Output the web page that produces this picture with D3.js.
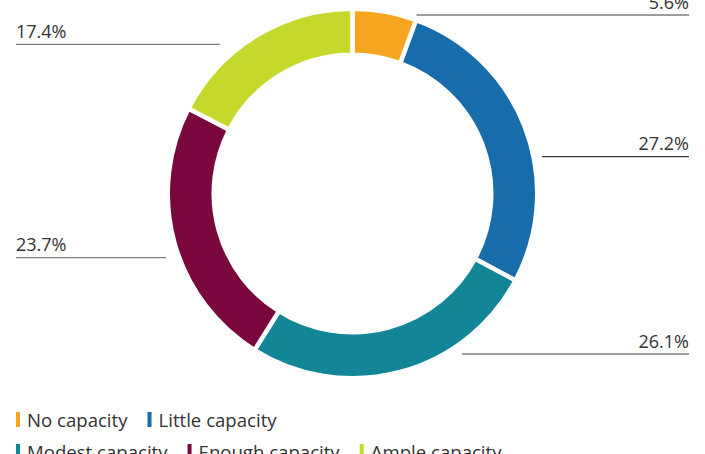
<!DOCTYPE html>
<html>
<head>
<meta charset="utf-8">
<script src="https://cdn.jsdelivr.net/npm/d3@7"></script>
<style>
  html, body { margin: 0; padding: 0; background: #fff; }
  svg { display: block; font-family: "Open Sans", "Noto Sans", sans-serif; }
</style>
</head>
<body>
<svg id="chart" width="705" height="454"></svg>
<script>
// Share of respondents by capacity level (percent)
const categories = ["No capacity", "Little capacity", "Modest capacity", "Enough capacity", "Ample capacity"];
const values = [5.6, 27.2, 26.1, 23.7, 17.4];
const labels = ["5.6%", "27.2%", "26.1%", "23.7%", "17.4%"];
const colors = ["#F6A51E", "#196CAB", "#128596", "#7A083E", "#C5D92D"];

const W = 705, H = 454;
const cx = 352.5, cy = 193.5;
const sepW = 4.5;                 // white separator between slices
const ringOuter = 182.5, ringInner = 141;   // visible ring edges

const svg = d3.select("#chart");

const data = categories.map((c, i) => ({ cat: c, value: values[i], label: labels[i], color: colors[i] }));

const pie = d3.pie().value(d => d.value).sort(null).startAngle(0).endAngle(2 * Math.PI);
const arc = d3.arc()
  .innerRadius(ringInner - sepW / 2)
  .outerRadius(ringOuter + sepW / 2);
const arcs = pie(data);

const g = svg.append("g").attr("transform", `translate(${cx},${cy})`);
g.selectAll("path.slice")
  .data(arcs)
  .join("path")
  .attr("class", "slice")
  .attr("d", arc)
  .attr("fill", d => d.data.color)
  .attr("stroke", "#fff")
  .attr("stroke-width", sepW)
  .attr("stroke-linejoin", "miter");

// Leader placement: vertical offset from the centre and gap from the ring edge
const leaderLayout = [
  { dy: -178.5, gap: 26 },
  { dy: -36.8, gap: 10.7 },
  { dy: 160.5, gap: 22.6 },
  { dy: 64.2, gap: 15.7 },
  { dy: -149.2, gap: 27.4 }
];
const leftX = 16, rightX = 689;

const labelG = svg.append("g");
arcs.forEach((a, i) => {
  const mid = (a.startAngle + a.endAngle) / 2;
  const right = Math.sin(mid) >= 0;
  const L = leaderLayout[i];
  const y = cy + L.dy;
  const half = Math.sqrt(Math.max(0, ringOuter * ringOuter - L.dy * L.dy));
  const edgeX = right ? cx + half + L.gap : cx - half - L.gap;
  const x1 = right ? edgeX : leftX;
  const x2 = right ? rightX : edgeX;
  labelG.append("line")
    .attr("x1", x1).attr("x2", x2)
    .attr("y1", y).attr("y2", y)
    .attr("stroke", right ? "#3a3a3a" : "#808080")
    .attr("stroke-width", 1.2);
  labelG.append("text")
    .attr("x", right ? rightX : leftX)
    .attr("y", y - 6.5)
    .attr("text-anchor", right ? "end" : "start")
    .attr("fill", "#333")
    .style("font-size", "18px")
    .text(a.data.label);
});

// Legend in two rows
const legendRows = [[0, 1], [2, 3, 4]];
const rowBaselines = [427, 459];
const legend = svg.append("g");
legendRows.forEach((row, r) => {
  let x = 16;
  row.forEach(i => {
    const item = legend.append("g").attr("transform", `translate(${x},${rowBaselines[r]})`);
    item.append("rect")
      .attr("x", 0).attr("y", -15)
      .attr("width", 4).attr("height", 15)
      .attr("fill", colors[i]);
    const t = item.append("text")
      .attr("x", 11).attr("y", 0)
      .attr("fill", "#333")
      .style("font-size", "18.6px")
      .text(categories[i]);
    x += 11 + t.node().getComputedTextLength() + 20;
  });
});
</script>
</body>
</html>
